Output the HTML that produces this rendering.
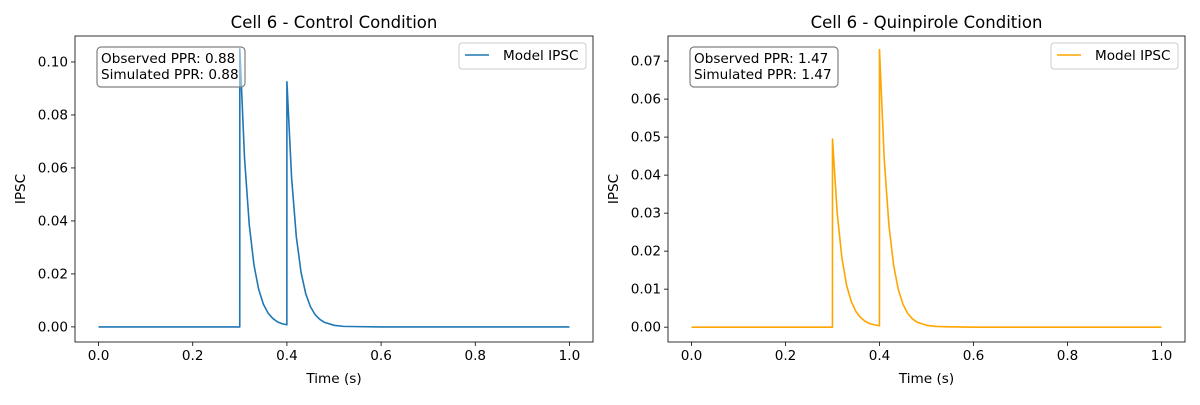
<!DOCTYPE html>
<html><head><meta charset="utf-8"><style>
body{margin:0;background:#fff;}
svg text{font-family:"DejaVu Sans","Liberation Sans",sans-serif;}
</style></head><body>
<svg id="fig" width="1200" height="400" xmlns="http://www.w3.org/2000/svg"></svg>
<script>
const times=[0,0.2999,0.3,0.31,0.32,0.33,0.34,0.35,0.36,0.37,0.38,0.39,0.3999,0.4,0.41,0.42,0.43,0.44,0.45,0.46,0.47,0.48,0.5,0.52,0.55,0.6,1.0];
const controlValues=[0,0,0.105,0.0637,0.0386,0.0234,0.0142,0.0086,0.0052,0.0032,0.0019,0.0012,0.0008,0.0925,0.0561,0.034,0.0206,0.0125,0.0076,0.0046,0.0028,0.0017,0.0006,0.0002,0.0001,0,0];
const quinValues=[0,0,0.0495,0.030,0.0182,0.011,0.0067,0.0041,0.0025,0.0015,0.0009,0.0006,0.0004,0.073,0.0443,0.0269,0.0163,0.0099,0.006,0.0036,0.0022,0.0013,0.0005,0.0002,0.0001,0,0];
const xTicks=[0,0.2,0.4,0.6,0.8,1.0];
const controlYTicks=[0,0.02,0.04,0.06,0.08,0.10];
const quinYTicks=[0,0.01,0.02,0.03,0.04,0.05,0.06,0.07];
const panels=[
 {name:'control',title:'Cell 6 - Control Condition',vals:controlValues,yt:controlYTicks,dec:2,color:'#1f77b4',L:75,R:593,ymin:-0.0057,ymax:0.1098,ppr:'0.88'},
 {name:'quinpirole',title:'Cell 6 - Quinpirole Condition',vals:quinValues,yt:quinYTicks,dec:2,color:'#ffa500',L:668,R:1185,ymin:-0.0039,ymax:0.0766,ppr:'1.47'}
];
const svg=document.getElementById('fig');
const NS='http://www.w3.org/2000/svg';
function mk(tag,attrs,parent,text){const e=document.createElementNS(NS,tag);for(const k in attrs)e.setAttribute(k,attrs[k]);if(text!==undefined)e.textContent=text;(parent||svg).appendChild(e);return e;}
const T=36,B=342,FS='13.6';
panels.forEach(p=>{
 const g=mk('g',{});
 
 
 const xmin=-0.05,xmax=1.05;
 const sx=v=>p.L+(v-xmin)/(xmax-xmin)*(p.R-p.L);
 const sy=v=>B-(v-p.ymin)/(p.ymax-p.ymin)*(B-T);
 const t=mk('text',{x:(p.L+p.R)/2,y:28,'text-anchor':'middle','font-size':'16.5'},g,p.title);
 
 
 xTicks.forEach(v=>{
  const x=sx(v);
  mk('line',{x1:x,x2:x,y1:B,y2:B+4,stroke:'#000','stroke-width':0.8},g);
  const tl=mk('text',{x:x,y:B+18,'text-anchor':'middle','font-size':FS},g,v.toFixed(1));
  
  
 });
 p.yt.forEach(v=>{
  const y=sy(v);
  mk('line',{x1:p.L-4,x2:p.L,y1:y,y2:y,stroke:'#000','stroke-width':0.8},g);
  const tl=mk('text',{x:p.L-7,y:y+4.5,'text-anchor':'end','font-size':FS},g,v.toFixed(p.dec));
  
  
 });
 const xl=mk('text',{x:(p.L+p.R)/2,y:383,'text-anchor':'middle','font-size':FS},g,'Time (s)');
 
 
 const cy=(T+B)/2;
 const yl=mk('text',{x:p.L-50,y:cy,'text-anchor':'middle','font-size':FS,transform:`rotate(-90 ${p.L-50} ${cy})`},g,'IPSC');
 
 
 const d=times.map((tt,i)=>(i?'L':'M')+sx(tt).toFixed(2)+','+sy(p.vals[i]).toFixed(2)).join(' ');
 const line=mk('path',{d:d,fill:'none',stroke:p.color,'stroke-width':1.6,'stroke-linejoin':'round'},g);
 
 
 mk('rect',{x:p.L,y:T,width:p.R-p.L,height:B-T,fill:'none',stroke:'#000','stroke-width':0.8},g);
 const bx=p.L+22;
 const box=mk('rect',{x:bx,y:47,width:148,height:40,rx:4,fill:'#fff','fill-opacity':0.5,stroke:'#808080','stroke-width':1.2},g);
 
 
 mk('text',{x:bx+4,y:63,'font-size':FS},g,'Observed PPR: '+p.ppr);
 mk('text',{x:bx+4,y:79,'font-size':FS},g,'Simulated PPR: '+p.ppr);
 const lx=p.R-134;
 const lg=mk('g',{},g);
 
 
 mk('rect',{x:lx,y:43,width:127,height:26,rx:3,fill:'#fff','fill-opacity':0.8,stroke:'#ccc','stroke-width':1},lg);
 mk('line',{x1:lx+6,x2:lx+30,y1:55,y2:55,stroke:p.color,'stroke-width':1.6},lg);
 mk('text',{x:lx+44,y:60,'font-size':FS},lg,'Model IPSC');
});
</script>
</body></html>
